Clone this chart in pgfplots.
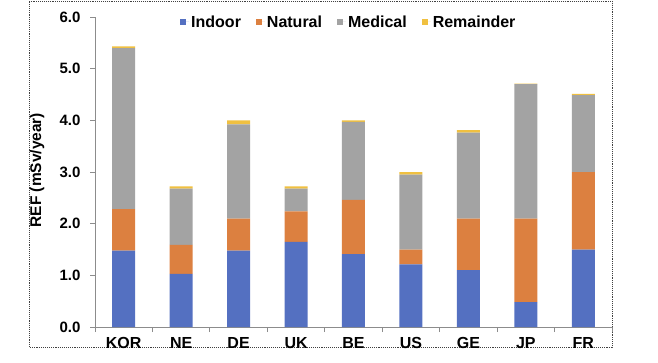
\documentclass[border=0pt]{standalone}
\usepackage{fontspec}
\setmainfont{Liberation Sans}
\usepackage{pgfplots}
\usepackage{pgfplotstable}
\pgfplotsset{compat=1.18}
\definecolor{cInd}{HTML}{5470C1}
\definecolor{cNat}{HTML}{DC8040}
\definecolor{cMed}{HTML}{A3A3A3}
\definecolor{cRem}{HTML}{F0C040}
\pgfplotstableread{
x Indoor Natural Medical Remainder
0 1.48 0.80 3.12 0.03
1 1.03 0.56 1.09 0.04
2 1.48 0.62 1.82 0.08
3 1.65 0.59 0.44 0.04
4 1.41 1.05 1.51 0.03
5 1.21 0.29 1.45 0.05
6 1.10 1.00 1.66 0.05
7 0.48 1.62 2.60 0.01
8 1.50 1.50 1.49 0.02
}\datatable
\begin{document}
\begin{tikzpicture}[x=1pt,y=1pt]
\path[use as bounding box] (0,0) rectangle (658,362);
\draw[densely dotted, line width=0.9pt, black!75] (29,15) rectangle (612,361);
\begin{axis}[
  at={(95pt,35pt)}, anchor=south west,
  scale only axis, width=517pt, height=310pt,
  xmin=-0.5, xmax=8.5, ymin=0, ymax=6,
  ybar stacked, bar width=23pt,
  axis lines*=left,
  axis line style={draw=black!45, line width=0.8pt},
  tick style={draw=black!45, line width=0.8pt},
  tick align=outside,
  major tick length=5pt, minor tick length=5pt,
  xtick={0,...,8},
  xticklabels={KOR,NE,DE,UK,BE,US,GE,JP,FR},
  major x tick style={draw=none},
  minor xtick={-0.5,0.5,...,8.5},
  ytick={0,1,...,6},
  /pgf/number format/.cd, fixed, fixed zerofill, precision=1, assume math mode=true,
  /pgfplots/.cd,
  yticklabel style={font=\fontsize{15}{17}\selectfont\bfseries, xshift=-6pt},
  xticklabel style={font=\fontsize{16}{18}\selectfont\bfseries, yshift=-2pt},
  ylabel={REF (mSv/year)},
  ylabel style={font=\fontsize{15.5}{17}\selectfont\bfseries, at={(axis description cs:-0.112,0.506)}, anchor=center},
  legend columns=4,
  legend style={draw=none, fill=none, at={(0.491,0.984)}, anchor=center,
    font=\fontsize{16}{18}\selectfont\bfseries,
    /tikz/every even column/.append style={column sep=13pt}},
  legend image code/.code={\path (0pt,0pt) -- (9pt,0pt); \fill[#1] (0pt,-3pt) rectangle (6pt,3pt);},
]
\addplot[fill=cInd, draw=none] table[x=x, y=Indoor] {\datatable};
\addplot[fill=cNat, draw=none] table[x=x, y=Natural] {\datatable};
\addplot[fill=cMed, draw=none] table[x=x, y=Medical] {\datatable};
\addplot[fill=cRem, draw=none] table[x=x, y=Remainder] {\datatable};
\legend{Indoor, Natural, Medical, Remainder}
\end{axis}
\end{tikzpicture}
\end{document}
